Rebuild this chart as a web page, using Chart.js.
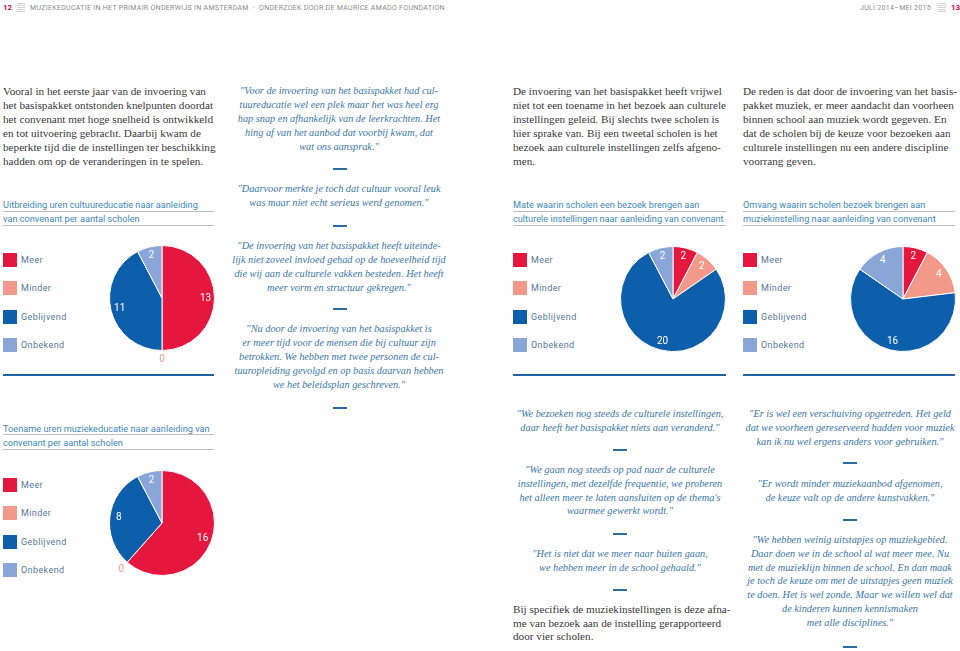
<!DOCTYPE html>
<html lang="nl">
<head>
<meta charset="utf-8">
<title>Muziekeducatie in het primair onderwijs in Amsterdam</title>
<script src="https://cdn.jsdelivr.net/npm/chart.js@4.4.1/dist/chart.umd.min.js"></script>
<style>
  html, body { margin: 0; padding: 0; background: #fff; }
  #page { position: relative; width: 960px; height: 651px; overflow: hidden; background: #fff; }
  .abs { position: absolute; white-space: nowrap; }
  .hdr { font-family: Roboto, sans-serif; font-size: 7px; line-height: 8px; color: #8a8a8a; letter-spacing: 0.3px; top: 4px; }
  .pnum { font-family: Roboto, sans-serif; font-weight: 700; font-size: 8px; line-height: 8px; color: #c4143c; top: 4px; }
  .icon { width: 8px; height: 10px; top: 3px; background: repeating-linear-gradient(#cfcfcf 0 1px, transparent 1px 2px); }
  .body { font-family: 'Liberation Serif', serif; font-size: 11.2px; line-height: 14px; color: #383838; }
  .quote { font-family: 'Liberation Serif', serif; font-style: italic; font-size: 10.3px; line-height: 14px; color: #3a76a6; text-align: center; width: 260px; }
  .q2 { line-height: 13.8px; }
  .dash { width: 14px; height: 2px; background: #2b6ca3; }
  .ctitle { font-family: Roboto, sans-serif; font-size: 9.2px; line-height: 13.5px; color: #3f88ba; }
  .uline { height: 1px; background: #bdbdbd; }
  .rule { height: 2px; background: #2262a6; }
  .legbox { width: 14px; height: 14px; }
  .legtxt { font-family: Roboto, sans-serif; font-size: 9px; line-height: 10px; color: #557796; letter-spacing: 0.4px; }
  canvas { position: absolute; }
</style>
</head>
<body>
<div id="page">
  <!-- kopregel -->
  <div class="abs pnum" style="left:3px;">12</div>
  <div class="abs icon" style="left:17px;"></div>
  <div class="abs hdr" style="left:30px;">MUZIEKEDUCATIE IN HET PRIMAIR ONDERWIJS IN AMSTERDAM &nbsp;·&nbsp; ONDERZOEK DOOR DE MAURICE AMADO FOUNDATION</div>
  <div class="abs hdr" style="right:29px;">JULI 2014–MEI 2015</div>
  <div class="abs icon" style="left:938px;"></div>
  <div class="abs pnum" style="left:951px;">13</div>

  <!-- kolom 1 -->
  <div class="abs body" style="left:3px; top:84px;">Vooral in het eerste jaar van de invoering van<br>het basispakket ontstonden knelpunten doordat<br>het convenant met hoge snelheid is ontwikkeld<br>en tot uitvoering gebracht. Daarbij kwam de<br>beperkte tijd die de instellingen ter beschikking<br>hadden om op de veranderingen in te spelen.</div>

  <div class="abs ctitle" style="left:3px; top:198px;">Uitbreiding uren cultuureducatie naar aanleiding<br>van convenant per aantal scholen</div>
  <div class="abs uline" style="left:3px; top:211px; width:211px;"></div>
  <div class="abs uline" style="left:3px; top:225px; width:211px;"></div>
  <div class="abs rule" style="left:3px; top:374px; width:211px;"></div>

  <div class="abs ctitle" style="left:3px; top:422px;">Toename uren muziekeducatie naar aanleiding van<br>convenant per aantal scholen</div>
  <div class="abs uline" style="left:3px; top:434px; width:211px;"></div>
  <div class="abs uline" style="left:3px; top:449px; width:211px;"></div>

  <!-- kolom 2: citaten -->
  <div class="abs quote" style="left:209px; top:84px;">"Voor de invoering van het basispakket had cul-<br>tuureducatie wel een plek maar het was heel erg<br>hap snap en afhankelijk van de leerkrachten. Het<br>hing af van het aanbod dat voorbij kwam, dat<br>wat ons aansprak."</div>
  <div class="abs dash" style="left:333px; top:168px;"></div>
  <div class="abs quote" style="left:209px; top:182px;">"Daarvoor merkte je toch dat cultuur vooral leuk<br>was maar niet echt serieus werd genomen."</div>
  <div class="abs dash" style="left:333px; top:225px;"></div>
  <div class="abs quote" style="left:209px; top:239px;">"De invoering van het basispakket heeft uiteinde-<br>lijk niet zoveel invloed gehad op de hoeveelheid tijd<br>die wij aan de culturele vakken besteden. Het heeft<br>meer vorm en structuur gekregen."</div>
  <div class="abs dash" style="left:333px; top:308px;"></div>
  <div class="abs quote" style="left:209px; top:322px;">"Nu door de invoering van het basispakket is<br>er meer tijd voor de mensen die bij cultuur zijn<br>betrokken. We hebben met twee personen de cul-<br>tuuropleiding gevolgd en op basis daarvan hebben<br>we het beleidsplan geschreven."</div>
  <div class="abs dash" style="left:333px; top:407px;"></div>

  <!-- kolom 3 -->
  <div class="abs body" style="left:513px; top:84px;">De invoering van het basispakket heeft vrijwel<br>niet tot een toename in het bezoek aan culturele<br>instellingen geleid. Bij slechts twee scholen is<br>hier sprake van. Bij een tweetal scholen is het<br>bezoek aan culturele instellingen zelfs afgeno-<br>men.</div>
  <div class="abs ctitle" style="left:513px; top:198px;">Mate waarin scholen een bezoek brengen aan<br>culturele instellingen naar aanleiding van convenant</div>
  <div class="abs uline" style="left:513px; top:211px; width:213px;"></div>
  <div class="abs uline" style="left:513px; top:225px; width:213px;"></div>
  <div class="abs rule" style="left:513px; top:374px; width:213px;"></div>

  <div class="abs quote q2" style="left:490px; top:407px;">"We bezoeken nog steeds de culturele instellingen,<br>daar heeft het basispakket niets aan veranderd."</div>
  <div class="abs dash" style="left:613px; top:449px;"></div>
  <div class="abs quote q2" style="left:490px; top:463px;">"We gaan nog steeds op pad naar de culturele<br>instellingen, met dezelfde frequentie, we proberen<br>het alleen meer te laten aansluiten op de thema's<br>waarmee gewerkt wordt."</div>
  <div class="abs dash" style="left:613px; top:533px;"></div>
  <div class="abs quote q2" style="left:490px; top:547px;">"Het is niet dat we meer naar buiten gaan,<br>we hebben meer in de school gehaald."</div>
  <div class="abs dash" style="left:613px; top:589px;"></div>
  <div class="abs body" style="left:513px; top:603px; line-height:13.5px;">Bij specifiek de muziekinstellingen is deze afna-<br>me van bezoek aan de instelling gerapporteerd<br>door vier scholen.</div>

  <!-- kolom 4 -->
  <div class="abs body" style="left:743px; top:84px;">De reden is dat door de invoering van het basis-<br>pakket muziek, er meer aandacht dan voorheen<br>binnen school aan muziek wordt gegeven. En<br>dat de scholen bij de keuze voor bezoeken aan<br>culturele instellingen nu een andere discipline<br>voorrang geven.</div>
  <div class="abs ctitle" style="left:743px; top:198px;">Omvang waarin scholen bezoek brengen aan<br>muziekinstelling naar aanleiding van convenant</div>
  <div class="abs uline" style="left:743px; top:211px; width:212px;"></div>
  <div class="abs uline" style="left:743px; top:225px; width:212px;"></div>
  <div class="abs rule" style="left:743px; top:374px; width:212px;"></div>

  <div class="abs quote q2" style="left:720px; top:407px;">"Er is wel een verschuiving opgetreden. Het geld<br>dat we voorheen gereserveerd hadden voor muziek<br>kan ik nu wel ergens anders voor gebruiken."</div>
  <div class="abs dash" style="left:843px; top:462px;"></div>
  <div class="abs quote q2" style="left:720px; top:477px;">"Er wordt minder muziekaanbod afgenomen,<br>de keuze valt op de andere kunstvakken."</div>
  <div class="abs dash" style="left:843px; top:519px;"></div>
  <div class="abs quote q2" style="left:720px; top:533px;">"We hebben weinig uitstapjes op muziekgebied.<br>Daar doen we in de school al wat meer mee. Nu<br>met de muzieklijn binnen de school. En dan maak<br>je toch de keuze om met de uitstapjes geen muziek<br>te doen. Het is wel zonde. Maar we willen wel dat<br>de kinderen kunnen kennismaken<br>met alle disciplines."</div>
  <div class="abs dash" style="left:843px; top:646px;"></div>

  <canvas id="pieCultuur" width="140" height="140" style="left:92px; top:228px;"></canvas>
  <canvas id="pieMuziekUren" width="140" height="140" style="left:92px; top:453px;"></canvas>
  <canvas id="pieBezoekCultuur" width="140" height="140" style="left:603px; top:229px;"></canvas>
  <canvas id="pieBezoekMuziek" width="140" height="140" style="left:833px; top:229px;"></canvas>
</div>

<script>
// categorieen en aantallen scholen per grafiek
const categories = ['Meer', 'Minder', 'Geblijvend', 'Onbekend'];
const sliceColors = ['#e5173f', '#f3998a', '#0d5fac', '#8aa6d8'];

const urenCultuur = [13, 0, 11, 2];
const urenMuziek = [16, 0, 8, 2];
const bezoekCultuur = [2, 2, 20, 2];
const bezoekMuziek = [2, 4, 16, 4];

// waarden in de taartpunten (0 buiten de taart in de kleur van het segment)
const sliceLabels = {
    id: 'sliceLabels',
    afterDatasetsDraw: function (chart) {
        const ctx = chart.ctx;
        const meta = chart.getDatasetMeta(0);
        const values = chart.data.datasets[0].data;
        ctx.save();
        ctx.font = '10px Roboto, sans-serif';
        ctx.textAlign = 'center';
        ctx.textBaseline = 'middle';
        meta.data.forEach(function (arc, i) {
            const p = arc.getProps(['x', 'y', 'startAngle', 'endAngle', 'outerRadius'], true);
            const mid = (p.startAngle + p.endAngle) / 2;
            const inside = values[i] > 0;
            const r = inside ? p.outerRadius * 0.83 : p.outerRadius + 9;
            ctx.fillStyle = inside ? '#ffffff' : sliceColors[i];
            ctx.fillText(String(values[i]), p.x + Math.cos(mid) * r, p.y + Math.sin(mid) * r);
        });
        ctx.restore();
    }
};

function renderPie(canvasId, values) {
    const canvas = document.getElementById(canvasId);
    if (!canvas || typeof Chart === 'undefined') return;
    new Chart(canvas.getContext('2d'), {
        type: 'pie',
        data: {
            labels: categories,
            datasets: [{
                data: values,
                backgroundColor: sliceColors,
                borderColor: '#ffffff',
                borderWidth: 1
            }]
        },
        options: {
            responsive: false,
            animation: false,
            layout: { padding: 17 },
            plugins: { legend: { display: false }, tooltip: { enabled: false } }
        },
        plugins: [sliceLabels]
    });
}

// legenda als html naast elke taart
function renderLegend(left, firstY) {
    const page = document.getElementById('page');
    categories.forEach(function (name, i) {
        const y = firstY + i * 28.3;
        const box = document.createElement('div');
        box.className = 'abs legbox';
        box.style.left = left + 'px';
        box.style.top = (y - 7) + 'px';
        box.style.background = sliceColors[i];
        page.appendChild(box);
        const txt = document.createElement('div');
        txt.className = 'abs legtxt';
        txt.style.left = (left + 18) + 'px';
        txt.style.top = (y - 5) + 'px';
        txt.textContent = name;
        page.appendChild(txt);
    });
}

renderPie('pieCultuur', urenCultuur);
renderPie('pieMuziekUren', urenMuziek);
renderPie('pieBezoekCultuur', bezoekCultuur);
renderPie('pieBezoekMuziek', bezoekMuziek);

renderLegend(3, 260);
renderLegend(3, 485);
renderLegend(513, 260);
renderLegend(743, 260);
</script>
</body>
</html>
